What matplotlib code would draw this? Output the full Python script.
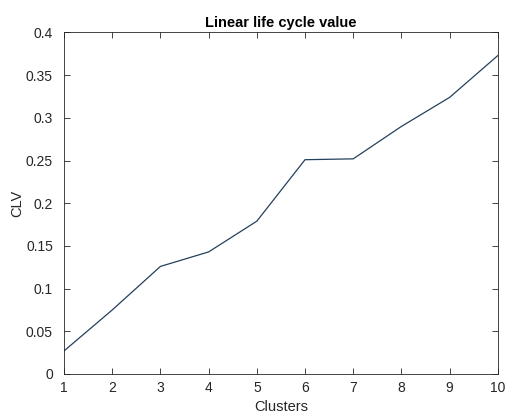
import matplotlib
matplotlib.use("Agg")
import matplotlib.pyplot as plt

clusters = [1, 2, 3, 4, 5, 6, 7, 8, 9, 10]
clv = [0.027, 0.075, 0.126, 0.143, 0.179, 0.251, 0.252, 0.290, 0.324, 0.373]
yticks = [0, 0.05, 0.1, 0.15, 0.2, 0.25, 0.3, 0.35, 0.4]
ytick_labels = ["0", "0.05", "0.1", "0.15", "0.2", "0.25", "0.3", "0.35", "0.4"]

plt.rcParams['font.family'] = ['Liberation Sans', 'DejaVu Sans']

fig = plt.figure(figsize=(5.08, 4.15), dpi=100)
ax = fig.add_axes([0.126, 0.0988, 0.854, 0.8229])
ax.plot(clusters, clv, color='#23405c', linewidth=0.9)
ax.set_xlim(1, 10)
ax.set_ylim(0, 0.4)
ax.set_xticks(clusters)
ax.set_yticks(yticks)
ax.set_yticklabels(ytick_labels)
ax.tick_params(direction='in', top=True, right=True, labelsize=10, length=4,
               width=0.6, colors='#262626')
ax.tick_params(axis='y', pad=8)
ax.tick_params(axis='x', pad=5)
for s in ax.spines.values():
    s.set_linewidth(0.6)
    s.set_color('#262626')
ax.set_xlabel('Clusters', fontsize=10.5, color='#262626', labelpad=4)
ax.set_ylabel('CLV', fontsize=10.5, color='#262626', labelpad=1)
ax.set_title('Linear life cycle value', fontsize=10.5, fontweight='bold', pad=4)
fig.savefig('out.png', dpi=100)
